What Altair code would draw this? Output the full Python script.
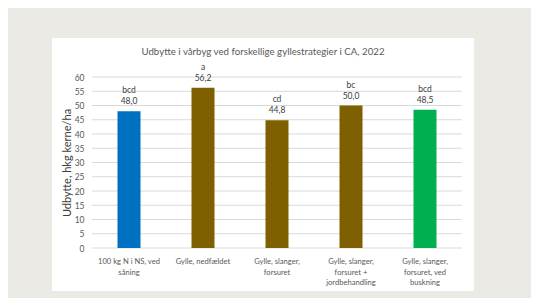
import altair as alt
import pandas as pd

categories = [
    "100 kg N i NS, ved|såning",
    "Gylle, nedfældet",
    "Gylle, slanger,|forsuret",
    "Gylle, slanger,|forsuret +|jordbehandling",
    "Gylle, slanger,|forsuret, ved|buskning",
]
values = [48.0, 56.2, 44.8, 50.0, 48.5]
letters = ["bcd", "a", "cd", "bc", "bcd"]
colors = ["#0070c0", "#7f6000", "#7f6000", "#7f6000", "#00b050"]
y_ticks = list(range(0, 61, 5))
title_text = "Udbytte i vårbyg ved forskellige gyllestrategier i CA, 2022"
y_title = "Udbytte, hkg kerne/ha"

FONT = "Lato"
df = pd.DataFrame({"cat": categories, "val": values, "letter": letters, "color": colors})
df["lab"] = [f"{v:.1f}".replace(".", ",") for v in values]
grid_df = pd.DataFrame({"val": y_ticks})
title_df = pd.DataFrame({"t": [title_text]})

W, H = 370, 171

xenc = alt.X("cat:N", sort=categories, title=None,
             scale=alt.Scale(paddingInner=0.69, paddingOuter=0.345),
             axis=alt.Axis(labelExpr="split(datum.value, '|')", labelAngle=0,
                           labelFont=FONT, labelFontSize=7.6, labelColor="#595959",
                           labelPadding=9.5, labelLineHeight=10.5, domain=False,
                           ticks=False, grid=False, zindex=1, labelBaseline="top"))
yscale = alt.Scale(domain=[0, 60], nice=False)
yaxis = alt.Axis(values=y_ticks, grid=False, domain=False, ticks=False,
                 labelFont=FONT, labelFontSize=8.5, labelColor="#595959",
                 labelPadding=8, titleFont=FONT, titleFontSize=11,
                 titleFontWeight="normal", titleColor="#404040",
                 titlePadding=2, zindex=1)
yenc = alt.Y("val:Q", scale=yscale, title=y_title, axis=yaxis)

panel = alt.Chart(title_df).mark_rect(color="white").encode(
    x=alt.value(-40), x2=alt.value(382), y=alt.value(-39), y2=alt.value(214))

grid = alt.Chart(grid_df).mark_rule(color="#d9d9d9", strokeWidth=1).encode(
    y=yenc, x=alt.value(0), x2=alt.value(W))

base = alt.Chart(df)
bars = base.mark_bar(size=23).encode(
    x=xenc, y=yenc, color=alt.Color("color:N", scale=None))
vals = base.mark_text(font=FONT, fontSize=8.5, color="#404040", baseline="bottom", dy=-5).encode(
    x=xenc, y=yenc, text="lab:N")
lets = base.mark_text(font=FONT, fontSize=8.5, color="#404040", baseline="bottom", dy=-16).encode(
    x=xenc, y=yenc, text="letter:N")
title = alt.Chart(title_df).mark_text(font=FONT, fontSize=9.7, color="#595959",
                                      align="center", baseline="middle").encode(
    x=alt.value(171), y=alt.value(-25), text="t:N")

chart = alt.layer(panel, grid, bars, vals, lets, title).properties(
    width=W, height=H, background="#ebeae4",
    padding={"left": 84, "top": 69, "right": 69, "bottom": 50},
    autosize=alt.AutoSizeParams(type="none"),
).configure_view(stroke=None)

chart.save("out.html", embed_options={"renderer": "svg", "actions": False})
